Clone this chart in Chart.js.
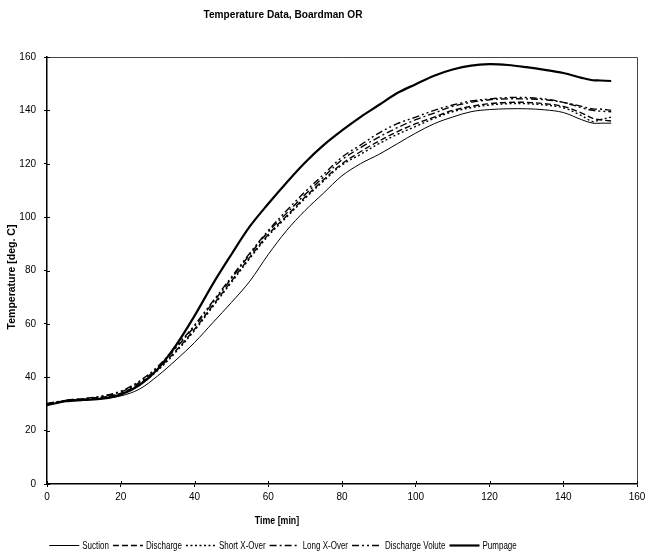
<!DOCTYPE html>
<html>
<head>
<meta charset="utf-8">
<script src="https://cdn.jsdelivr.net/npm/chart.js@4/dist/chart.umd.min.js"></script>
<style>
  html, body { margin: 0; padding: 0; background: #fff; }
  #wrap { width: 646px; height: 554px; }
</style>
</head>
<body>
<div id="wrap"><canvas id="chart" width="646" height="554"></canvas></div>
<script>
// Temperature Data, Boardman OR - values
const chartTitle = 'Temperature Data, Boardman OR';
const xTitle = 'Time [min]';
const yTitle = 'Temperature [deg. C]';

const times = [0, 5, 10, 15, 20, 25, 30, 35, 40, 45, 50, 55, 60, 65, 70, 75, 80, 85, 90, 95, 100, 105, 110, 115, 120, 125, 130, 135, 140, 145, 148, 150, 153];

const suction = [29.5, 31, 31.5, 32, 33, 35.5, 40.5, 46.5, 53, 60.5, 68, 76, 86, 95, 102.5, 109, 115.5, 120, 123.5, 127.5, 131.5, 135, 137.5, 139.5, 140.3, 140.6, 140.6, 140.2, 139.2, 136.5, 135.2, 135.2, 135.2];
const discharge = [30, 31.2, 31.8, 32.5, 34, 37.5, 43, 50, 58, 67, 76, 85, 93.5, 100.5, 107.5, 114, 120, 124.5, 128.5, 132, 135, 137.5, 140, 141.5, 142.5, 143, 143, 142.5, 141.5, 139, 137, 136.5, 136];
const shortXOver = [29.8, 31, 31.6, 32.3, 33.8, 37, 42.5, 49.5, 57.5, 66.5, 75.5, 84.5, 93, 100, 107, 113.5, 119.5, 123.5, 127.5, 131, 134, 137, 139.5, 141, 142, 142.5, 142.5, 142, 141, 138, 135.8, 136.5, 137.5];
const longXOver = [30.2, 31.3, 32, 32.8, 34.5, 38, 43.5, 51, 59, 68, 77, 86, 94.5, 101.5, 108.5, 115, 121.5, 126, 130, 133.5, 136.5, 139, 141.5, 143, 144, 144.3, 144.3, 144, 143, 141.5, 140.5, 140.5, 140];
const dischargeVolute = [30, 31.3, 32, 33, 34.8, 38.5, 44, 51.5, 59.5, 68.5, 77.5, 86.5, 95, 102.5, 109.5, 116, 122.5, 127, 131.5, 135, 137.5, 140, 142, 143.5, 144.3, 144.8, 144.8, 144.3, 143, 141, 140, 139.7, 139.5];
const pumpage = [29.5, 31, 31.5, 32, 33.5, 37, 43, 52, 63, 75, 86, 96.5, 105, 113, 120.5, 127, 132.5, 137.5, 142, 146.5, 149.8, 153, 155.3, 156.8, 157.3, 157, 156.2, 155.2, 154, 152.2, 151.3, 151.2, 151];

const seriesNames = ['Suction', 'Discharge', 'Short X-Over', 'Long X-Over', 'Discharge Volute', 'Pumpage'];
const seriesValues = [suction, discharge, shortXOver, longXOver, dischargeVolute, pumpage];
const seriesDash = [[], [6, 3], [2, 2.5], [7, 3, 2, 3], [7, 3, 2, 3, 2, 3], []];
const seriesWidth = [1, 1.4, 1.4, 1.4, 1.4, 2.2];

const fontFamily = '"Liberation Sans", Arial, sans-serif';

const datasets = seriesNames.map((name, i) => ({
    label: name,
    data: times.map((t, j) => ({ x: t, y: seriesValues[i][j] })),
    borderColor: '#000',
    backgroundColor: '#000',
    borderWidth: seriesWidth[i],
    borderDash: seriesDash[i],
    pointRadius: 0,
    tension: 0.35,
    fill: false
}));

// text squeezed sideways, the reference uses a narrow face
function narrowText(ctx, text, x, y, sx) {
    ctx.save();
    ctx.translate(x, y);
    ctx.scale(sx, 1);
    ctx.fillText(text, 0, 0);
    ctx.restore();
}

// Draws frame, inner tick marks, titles and the legend
const extrasPlugin = {
    id: 'extras',
    afterDraw(chart) {
        const ctx = chart.ctx;
        const area = chart.chartArea;
        const xs = chart.scales.x;
        const ys = chart.scales.y;
        ctx.save();

        // top and right frame lines
        ctx.strokeStyle = '#444';
        ctx.lineWidth = 1;
        ctx.beginPath();
        ctx.moveTo(area.left, area.top + 0.5);
        ctx.lineTo(area.right + 0.5, area.top + 0.5);
        ctx.lineTo(area.right + 0.5, area.bottom);
        ctx.stroke();

        // inner halves of the cross ticks
        ctx.strokeStyle = '#000';
        ctx.beginPath();
        ys.ticks.forEach(tk => {
            const py = Math.round(ys.getPixelForValue(tk.value)) + 0.5;
            ctx.moveTo(area.left, py);
            ctx.lineTo(area.left + 3, py);
        });
        xs.ticks.forEach(tk => {
            const px = Math.round(xs.getPixelForValue(tk.value)) + 0.5;
            ctx.moveTo(px, area.bottom);
            ctx.lineTo(px, area.bottom - 3);
        });
        ctx.stroke();

        ctx.fillStyle = '#000';
        ctx.textBaseline = 'middle';
        ctx.textAlign = 'center';

        // chart title
        ctx.font = 'bold 11px ' + fontFamily;
        narrowText(ctx, chartTitle, 283, 15, 0.92);

        // x axis title
        ctx.font = 'bold 10px ' + fontFamily;
        narrowText(ctx, xTitle, 277, 521, 0.88);

        // y axis title
        ctx.save();
        ctx.translate(12, 277);
        ctx.rotate(-Math.PI / 2);
        ctx.font = 'bold 10.5px ' + fontFamily;
        ctx.fillText(yTitle, 0, 0);
        ctx.restore();

        // legend
        ctx.font = '10px ' + fontFamily;
        ctx.textAlign = 'left';
        const sx = 0.8;
        const sampleW = 30, gapIn = 3, gapOut = 4;
        const widths = seriesNames.map(n => sampleW + gapIn + ctx.measureText(n).width * sx);
        const total = widths.reduce((a, b) => a + b, 0) + gapOut * (widths.length - 1);
        let lx = 283 - total / 2;
        const ly = 545;
        chart.data.datasets.forEach((ds, i) => {
            ctx.save();
            ctx.strokeStyle = '#000';
            ctx.lineWidth = ds.borderWidth;
            ctx.setLineDash(ds.borderDash);
            ctx.beginPath();
            ctx.moveTo(lx, ly + 0.5);
            ctx.lineTo(lx + sampleW, ly + 0.5);
            ctx.stroke();
            ctx.restore();
            narrowText(ctx, ds.label, lx + sampleW + gapIn, ly + 1, sx);
            lx += widths[i] + gapOut;
        });

        ctx.restore();
    }
};

const ctx = document.getElementById('chart').getContext('2d');
new Chart(ctx, {
    type: 'line',
    data: { datasets: datasets },
    options: {
        responsive: false,
        animation: false,
        devicePixelRatio: 1,
        layout: { padding: { left: 4, top: 57, right: 9, bottom: 50 } },
        plugins: {
            legend: { display: false },
            title: { display: false },
            tooltip: { enabled: false }
        },
        scales: {
            x: {
                type: 'linear',
                min: 0,
                max: 160,
                afterFit: (scale) => { scale.height = 20; scale.paddingLeft = 0; scale.paddingRight = 0; },
                ticks: { stepSize: 20, color: '#000', padding: 4, maxRotation: 0, font: { family: fontFamily, size: 10 } },
                grid: { drawOnChartArea: false, drawTicks: true, tickLength: 3, color: '#000' },
                border: { color: '#000', width: 1.5 }
            },
            y: {
                type: 'linear',
                min: 0,
                max: 160,
                afterFit: (scale) => { scale.width = 43; },
                ticks: { stepSize: 20, color: '#000', padding: 8, font: { family: fontFamily, size: 10 } },
                grid: { drawOnChartArea: false, drawTicks: true, tickLength: 3, color: '#000' },
                border: { color: '#000', width: 1.5 }
            }
        }
    },
    plugins: [extrasPlugin]
});
</script>
</body>
</html>
